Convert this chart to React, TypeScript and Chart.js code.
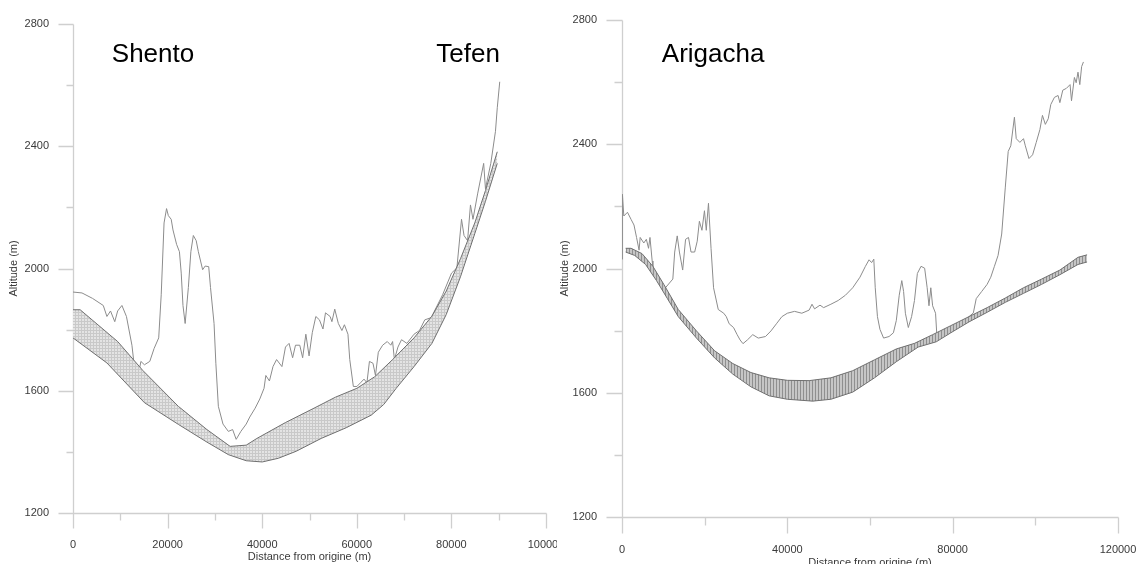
import React, { useEffect, useRef } from 'react';
import { Chart, registerables } from 'chart.js';

Chart.register(...registerables);

// ---------------- DATA ----------------
// Left panel (Shento – Tefen)
const leftTerrain: [number, number][] = [
  [0, 1923], [1900, 1920], [4150, 1902], [6400, 1879], [7170, 1843], [7930, 1861], [8830, 1826], [9440, 1861],
  [10340, 1879], [11300, 1843], [12460, 1749], [13060, 1667], [13800, 1650], [14350, 1696], [15100, 1685],
  [16230, 1696], [17140, 1738], [18120, 1773], [18650, 1914], [19250, 2149], [19780, 2196], [20160, 2173],
  [20760, 2161], [21140, 2126], [21900, 2079], [22500, 2055], [22880, 1985], [23250, 1879], [23710, 1820],
  [24390, 1938], [24920, 2055], [25440, 2108], [26050, 2091], [26500, 2055], [27410, 1996], [27940, 2008],
  [28690, 2006], [29070, 1938], [29820, 1820], [30200, 1690], [30730, 1549], [31710, 1491], [32840, 1467],
  [33750, 1473], [34500, 1441], [35490, 1467], [36620, 1491], [37370, 1514], [38510, 1543], [39490, 1573],
  [40390, 1608], [40770, 1650], [41530, 1632], [42280, 1679], [43040, 1702], [44170, 1679], [44920, 1743],
  [45680, 1755], [46430, 1708], [47040, 1749], [47940, 1749], [48550, 1708], [49230, 1785], [49910, 1714],
  [50590, 1790], [51340, 1843], [52100, 1832], [52850, 1802], [53380, 1855], [54360, 1843], [54740, 1826],
  [55340, 1867], [56100, 1820], [56850, 1797], [57380, 1816], [58130, 1785], [58510, 1702], [59270, 1614],
  [60020, 1614], [60780, 1626], [61530, 1638], [62140, 1626], [62670, 1696], [63420, 1690], [63950, 1650],
  [64550, 1726], [65460, 1749], [66440, 1761], [67190, 1749], [67570, 1761], [67950, 1702], [68700, 1743],
  [69460, 1767], [70590, 1755], [72100, 1785], [73240, 1797], [74370, 1832], [75500, 1838], [75880, 1844],
  [78140, 1914], [80030, 1985], [81160, 2002], [82140, 2161], [82670, 2108], [83420, 2091], [84030, 2208],
  [84560, 2161], [85540, 2244], [86820, 2344], [87200, 2261], [88330, 2344], [89320, 2449], [89700, 2526],
  [90220, 2611],
];
const leftBandUpper: [number, number][] = [
  [0, 1865], [1510, 1865], [9440, 1761], [14720, 1667], [22270, 1549], [28310, 1473], [33220, 1418],
  [36620, 1422], [38880, 1444], [44920, 1496], [50960, 1543], [55490, 1579], [60020, 1608], [63800, 1646],
  [67570, 1702], [72100, 1773], [75880, 1844], [78900, 1926], [81920, 2032], [84940, 2149], [87200, 2255],
  [89700, 2382],
];
const leftBandLower: [number, number][] = [
  [0, 1773], [7170, 1691], [15100, 1561], [22270, 1490], [28310, 1432], [32840, 1391], [36620, 1371],
  [40010, 1367], [43400, 1379], [47190, 1402], [52470, 1444], [57760, 1479], [63040, 1520], [65690, 1555],
  [68330, 1608], [72100, 1679], [75880, 1755], [78900, 1849], [81920, 1973], [84940, 2114], [87200, 2220],
  [89700, 2344],
];

// Right panel (Arigacha)
const rightTerrain: [number, number][] = [
  [0, 2030], [100, 2239], [440, 2169], [1320, 2181], [2200, 2158], [2900, 2140], [3520, 2100], [4130, 2059],
  [4400, 2100], [5270, 2082], [5890, 2094], [6420, 2065], [6770, 2100], [7300, 2024], [7470, 2001],
  [10000, 1930], [12300, 1966], [12750, 2053], [13360, 2105], [13890, 2053], [14680, 1995], [15380, 2094],
  [16090, 2100], [16700, 2053], [17580, 2053], [18200, 2088], [18720, 2152], [19340, 2123], [19950, 2186],
  [20390, 2123], [20920, 2210], [21540, 2065], [22150, 1938], [23290, 1868], [24610, 1856], [25230, 1845],
  [25930, 1822], [26990, 1810], [27860, 1787], [28570, 1770], [29270, 1758], [30330, 1770], [31640, 1787],
  [32960, 1776], [34720, 1781], [36040, 1799], [37360, 1822], [38680, 1845], [40000, 1856], [41750, 1862],
  [43510, 1856], [45270, 1866], [45970, 1885], [46590, 1870], [47900, 1882], [48780, 1874], [50540, 1885],
  [52300, 1897], [54060, 1914], [55820, 1938], [57570, 1972], [58890, 2007], [59770, 2028], [60390, 2019],
  [60920, 2030], [61270, 1938], [61800, 1845], [62410, 1804], [63290, 1776], [64610, 1781], [65660, 1793],
  [66370, 1833], [67070, 1914], [67690, 1961], [68130, 1926], [68560, 1856], [69270, 1810], [70060, 1845],
  [70760, 1897], [71460, 1984], [72340, 2007], [73220, 2001], [73830, 1938], [74270, 1880], [74710, 1938],
  [75150, 1880], [75860, 1856], [76210, 1776], [80500, 1805], [85000, 1857], [85700, 1903], [87020, 1926],
  [88340, 1949], [89220, 1972], [90100, 2007], [90980, 2042], [91860, 2111], [92740, 2262], [93440, 2377],
  [94060, 2395], [94940, 2487], [95380, 2418], [96260, 2406], [97140, 2418], [97580, 2395], [98460, 2354],
  [99340, 2366], [100220, 2406], [101100, 2447], [101720, 2493], [102420, 2464], [103120, 2482],
  [103740, 2528], [104620, 2551], [105500, 2557], [105940, 2534], [106640, 2574], [107520, 2580],
  [108400, 2592], [108750, 2540], [109450, 2615], [109880, 2598], [110320, 2632], [110760, 2592],
  [111200, 2650], [111640, 2665],
];
const rightBandUpper: [number, number][] = [
  [880, 2065], [2200, 2065], [4830, 2048], [7470, 2007], [10110, 1949], [13620, 1868], [18020, 1799],
  [22410, 1735], [26810, 1694], [31200, 1665], [35600, 1648], [40000, 1640], [45270, 1639], [50540, 1648],
  [55820, 1671], [61090, 1706], [66370, 1741], [70760, 1759], [75150, 1787], [79550, 1816], [83940, 1845],
  [88340, 1874], [92740, 1905], [97140, 1938], [101530, 1966], [105940, 1995], [110320, 2036], [112520, 2044],
];
const rightBandLower: [number, number][] = [
  [880, 2053], [3080, 2042], [5710, 2013], [8350, 1961], [10990, 1903], [13620, 1845], [18020, 1776],
  [22410, 1712], [26810, 1660], [31200, 1619], [35600, 1590], [40000, 1579], [46150, 1573], [50540, 1579],
  [55820, 1602], [61090, 1648], [66370, 1700], [71640, 1747], [76030, 1764], [79550, 1793], [83940, 1828],
  [88340, 1859], [92740, 1891], [97140, 1920], [101530, 1949], [105940, 1980], [110320, 2013], [112520, 2021],
];

const yMajorTicks = [1200, 1600, 2000, 2400, 2800];
const yMinorTicks = [1400, 1800, 2200, 2600];
const leftXMajorTicks = [0, 20000, 40000, 60000, 80000, 100000];
const leftXMinorTicks = [10000, 30000, 50000, 70000, 90000];
const rightXMajorTicks = [0, 40000, 80000, 120000];
const rightXMinorTicks = [20000, 60000, 100000];

const leftPlaceNames = ['Shento', 'Tefen'];
const leftPlaceAnchors: [number, number][] = [[8200, 2676], [76800, 2676]];
const rightPlaceNames = ['Arigacha'];
const rightPlaceAnchors: [number, number][] = [[9640, 2665]];

// ---------------- STYLE ----------------
const FONT = "'Liberation Sans', Arial, sans-serif";
const AXIS_COLOR = '#cfcfcf';
const TEXT_COLOR = '#3a3a3a';

function makePattern(kind: 'dots' | 'stripes'): CanvasPattern | string {
  const c = document.createElement('canvas');
  const g = c.getContext('2d');
  if (!g) return '#ccc';
  if (kind === 'dots') {
    c.width = 3; c.height = 3;
    g.fillStyle = '#e4e4e4'; g.fillRect(0, 0, 3, 3);
    g.fillStyle = '#c9c9c9'; g.fillRect(0, 0, 3, 1); g.fillRect(0, 0, 1, 3);
  } else {
    c.width = 3; c.height = 1;
    g.fillStyle = '#c6c6c6'; g.fillRect(0, 0, 3, 1);
    g.fillStyle = '#8f8f8f'; g.fillRect(0, 0, 1, 1);
  }
  return g.createPattern(c, 'repeat') || '#ccc';
}

type PanelProps = {
  left: number; width: number; height: number;
  terrain: [number, number][]; upper: [number, number][]; lower: [number, number][];
  xMax: number; xStep: number; xMajor: number[]; xMinor: number[];
  pattern: 'dots' | 'stripes';
  names: string[]; anchors: [number, number][];
  pad: { left: number; right: number; top: number };
  yWidth: number; xHeight: number; yTitlePad: number; tickLen: number; minorLen: number;
};

const toXY = (arr: [number, number][]) => arr.map(([x, y]) => ({ x, y }));

const noPad = (s: any) => { s.paddingLeft = 0; s.paddingRight = 0; s.paddingTop = 0; s.paddingBottom = 0; };

function Panel(p: PanelProps) {
  const ref = useRef<HTMLCanvasElement | null>(null);
  useEffect(() => {
    if (!ref.current) return;
    const fillPattern = makePattern(p.pattern);
    const decor = {
      id: 'decor',
      beforeDatasetsDraw(chart: any) {
        const { ctx } = chart;
        const xs = chart.scales.x;
        const ys = chart.scales.y;
        const L = Math.round(xs.getPixelForValue(0)) + 0.5;
        const R = Math.round(xs.getPixelForValue(p.xMax)) + 0.5;
        const T = Math.round(ys.getPixelForValue(2800)) + 0.5;
        const B = Math.round(ys.getPixelForValue(1200)) + 0.5;
        ctx.save();
        ctx.strokeStyle = AXIS_COLOR;
        ctx.lineWidth = 1.3;
        ctx.beginPath();
        ctx.moveTo(L, T); ctx.lineTo(L, B + p.tickLen);
        ctx.moveTo(L - p.tickLen, B); ctx.lineTo(R, B);
        yMajorTicks.forEach((v) => { const yy = Math.round(ys.getPixelForValue(v)) + 0.5; ctx.moveTo(L - p.tickLen, yy); ctx.lineTo(L, yy); });
        yMinorTicks.forEach((v) => { const yy = Math.round(ys.getPixelForValue(v)) + 0.5; ctx.moveTo(L - p.minorLen, yy); ctx.lineTo(L, yy); });
        p.xMajor.forEach((v) => { const xx = Math.round(xs.getPixelForValue(v)) + 0.5; ctx.moveTo(xx, B); ctx.lineTo(xx, B + p.tickLen); });
        p.xMinor.forEach((v) => { const xx = Math.round(xs.getPixelForValue(v)) + 0.5; ctx.moveTo(xx, B); ctx.lineTo(xx, B + p.minorLen); });
        ctx.stroke();
        ctx.restore();
      },
      afterDatasetsDraw(chart: any) {
        const { ctx } = chart;
        const xs = chart.scales.x;
        const ys = chart.scales.y;
        ctx.save();
        ctx.fillStyle = '#000';
        ctx.font = `26px ${FONT}`;
        ctx.textAlign = 'left';
        ctx.textBaseline = 'alphabetic';
        p.names.forEach((n, i) => {
          ctx.fillText(n, xs.getPixelForValue(p.anchors[i][0]), ys.getPixelForValue(p.anchors[i][1]));
        });
        ctx.restore();
      },
    };
    const line = (data: any, color: string, extra: any = {}) => ({
      data, borderColor: color, borderWidth: 1, pointRadius: 0, pointHoverRadius: 0,
      tension: 0, fill: false, ...extra,
    });
    const chart = new Chart(ref.current, {
      type: 'line',
      data: {
        datasets: [
          line(toXY(p.upper), '#6f6f6f'),
          line(toXY(p.lower), '#6f6f6f'),
          line(toXY(p.upper), 'rgba(0,0,0,0)', { fill: 1, backgroundColor: fillPattern, borderWidth: 0 }),
          line(toXY(p.terrain), '#8c8c8c'),
        ],
      },
      options: {
        responsive: false,
        animation: false,
        devicePixelRatio: 1,
        events: [],
        layout: { autoPadding: false, padding: { left: p.pad.left, right: p.pad.right, top: p.pad.top, bottom: 0 } },
        plugins: { legend: { display: false }, tooltip: { enabled: false }, title: { display: false } },
        scales: {
          x: {
            type: 'linear', min: 0, max: p.xMax,
            afterFit: (s: any) => { s.height = p.xHeight; noPad(s); },
            grid: { display: true, drawOnChartArea: false, color: 'rgba(0,0,0,0)', tickColor: 'rgba(0,0,0,0)', tickLength: p.tickLen },
            border: { display: false },
            ticks: { stepSize: p.xStep, padding: 10, color: TEXT_COLOR, font: { family: FONT, size: 11 }, maxRotation: 0, autoSkip: false, callback: (v: any) => String(v) },
            title: { display: true, text: 'Distance from origine (m)', color: TEXT_COLOR, font: { family: FONT, size: 11 }, padding: { top: 0, bottom: 0 } },
          },
          y: {
            type: 'linear', min: 1200, max: 2800,
            afterFit: (s: any) => { s.width = p.yWidth; noPad(s); },
            grid: { display: true, drawOnChartArea: false, color: 'rgba(0,0,0,0)', tickColor: 'rgba(0,0,0,0)', tickLength: p.tickLen },
            border: { display: false },
            ticks: { stepSize: 400, padding: 9, color: TEXT_COLOR, font: { family: FONT, size: 11 }, callback: (v: any) => String(v) },
            title: { display: true, text: 'Altitude (m)', color: TEXT_COLOR, font: { family: FONT, size: 11 }, padding: { top: p.yTitlePad, bottom: 0 } },
          },
        },
      },
      plugins: [decor],
    } as any);
    return () => chart.destroy();
  }, []);
  return (
    <canvas
      ref={ref}
      width={p.width}
      height={p.height}
      style={{ position: 'absolute', left: p.left, top: 0, width: p.width, height: p.height }}
    />
  );
}

export default function App() {
  return (
    <div style={{ position: 'absolute', left: 0, top: 0, width: 1139, height: 564, overflow: 'hidden', background: '#fff' }}>
      <Panel
        left={0} width={557} height={564}
        terrain={leftTerrain} upper={leftBandUpper} lower={leftBandLower}
        xMax={100000} xStep={20000} xMajor={leftXMajorTicks} xMinor={leftXMinorTicks}
        pattern="dots" names={leftPlaceNames} anchors={leftPlaceAnchors}
        pad={{ left: 0, right: 557 - 546, top: 24 }}
        yWidth={73} xHeight={51} yTitlePad={7} tickLen={15} minorLen={7}
      />
      <Panel
        left={557} width={582} height={570}
        terrain={rightTerrain} upper={rightBandUpper} lower={rightBandLower}
        xMax={120000} xStep={40000} xMajor={rightXMajorTicks} xMinor={rightXMinorTicks}
        pattern="stripes" names={rightPlaceNames} anchors={rightPlaceAnchors}
        pad={{ left: 0, right: 21, top: 20 }}
        yWidth={65} xHeight={53} yTitlePad={1} tickLen={16} minorLen={8}
      />
    </div>
  );
}
